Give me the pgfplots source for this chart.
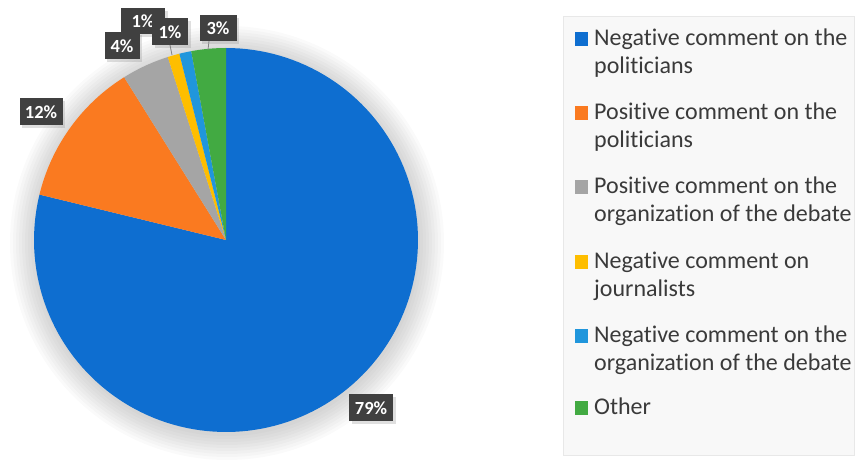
\documentclass[border=0pt]{standalone}
\usepackage{pgfplots}
\pgfplotsset{compat=1.18}
\usepackage{fontspec}
\setmainfont[Ligatures={NoCommon}]{Carlito}
\usetikzlibrary{shadows}
\definecolor{cBlue}{RGB}{14,110,208}
\definecolor{cOrange}{RGB}{250,122,32}
\definecolor{cGray}{RGB}{165,165,165}
\definecolor{cYellow}{RGB}{254,190,0}
\definecolor{cLBlue}{RGB}{32,150,220}
\definecolor{cGreen}{RGB}{66,170,66}
\definecolor{lblbg}{RGB}{64,64,64}
\definecolor{txt}{RGB}{58,58,58}
\definecolor{panel}{RGB}{248,248,248}
\definecolor{panelline}{RGB}{232,232,232}
\tikzset{lbl/.style={fill=lblbg, text=white, font=\bfseries\fontsize{18.5}{20}\selectfont,
  inner sep=0pt, minimum height=27pt,
  drop shadow={opacity=0.25, shadow xshift=2.5pt, shadow yshift=-3pt}},
  lt/.style={anchor=base west, inner sep=0pt, text=txt, font=\fontsize{24}{28}\selectfont}}
\begin{document}
\begin{tikzpicture}[x=1pt,y=1pt]
% soft halo around the pie
\foreach \r in {217,214,...,193}{
  \fill[black, opacity=0.02] (227,221) circle[radius=\r pt];
}
\begin{axis}[width=855pt, height=464pt, scale only axis, at={(0,0)}, anchor=south west,
  xmin=0, xmax=855, ymin=0, ymax=464, hide axis, clip=false]
% shares (percent): 78.8, 12.3, 4.0, 1.0, 1.0, 2.9 ; angle = 90 - 3.6*cumulative
\addplot[fill=cBlue, draw=none, domain=-193.68:90, samples=140]
  ({226+192*cos(x)},{224+192*sin(x)}) -- (axis cs:226,224) -- cycle;
\addplot[fill=cOrange, draw=none, domain=-237.96:-193.68, samples=40]
  ({226+192*cos(x)},{224+192*sin(x)}) -- (axis cs:226,224) -- cycle;
\addplot[fill=cGray, draw=none, domain=-252.36:-237.96, samples=20]
  ({226+192*cos(x)},{224+192*sin(x)}) -- (axis cs:226,224) -- cycle;
\addplot[fill=cYellow, draw=none, domain=-255.96:-252.36, samples=8]
  ({226+192*cos(x)},{224+192*sin(x)}) -- (axis cs:226,224) -- cycle;
\addplot[fill=cLBlue, draw=none, domain=-259.56:-255.96, samples=8]
  ({226+192*cos(x)},{224+192*sin(x)}) -- (axis cs:226,224) -- cycle;
\addplot[fill=cGreen, draw=none, domain=-270:-259.56, samples=16]
  ({226+192*cos(x)},{224+192*sin(x)}) -- (axis cs:226,224) -- cycle;
% leader lines
\draw[cGray!80!black, line width=0.8pt] (axis cs:170,419) -- (axis cs:172,409);
\draw[cGray!80!black, line width=0.8pt] (axis cs:209,423) -- (axis cs:208,414);
% data labels
\node[lbl, minimum width=44pt] at (axis cs:371,56) {79\%};
\node[lbl, minimum width=43pt] at (axis cs:41,352) {12\%};
\node[lbl, minimum width=44pt, minimum height=26pt] at (axis cs:143,443) {1\%};
\node[lbl, minimum width=35pt] at (axis cs:122,418) {4\%};
\node[lbl, minimum width=36pt] at (axis cs:170,432) {1\%};
\node[lbl, minimum width=37pt, minimum height=26pt] at (axis cs:218,436) {3\%};
\end{axis}
% legend panel
\fill[panel] (563,9) rectangle (854,448);
\draw[panelline, line width=0.6pt] (563,9) rectangle (854,448);
\foreach \y/\c/\a/\b in {418/cBlue/Negative comment on the/politicians,
                        344/cOrange/Positive comment on the/politicians,
                        270/cGray/Positive comment on the/organization of the debate,
                        195/cYellow/Negative comment on/journalists,
                        121/cLBlue/Negative comment on the/organization of the debate}{
  \fill[\c] (575,\y) rectangle (588,\y+14);
  \node[lt] at (594,\y) {\a};
  \node[lt] at (594,\y-28) {\b};
}
\fill[cGreen] (575,49) rectangle (588,63);
\node[lt] at (594,49) {Other};
\pgfresetboundingbox
\useasboundingbox (0,0) rectangle (855,464);
\end{tikzpicture}
\end{document}
